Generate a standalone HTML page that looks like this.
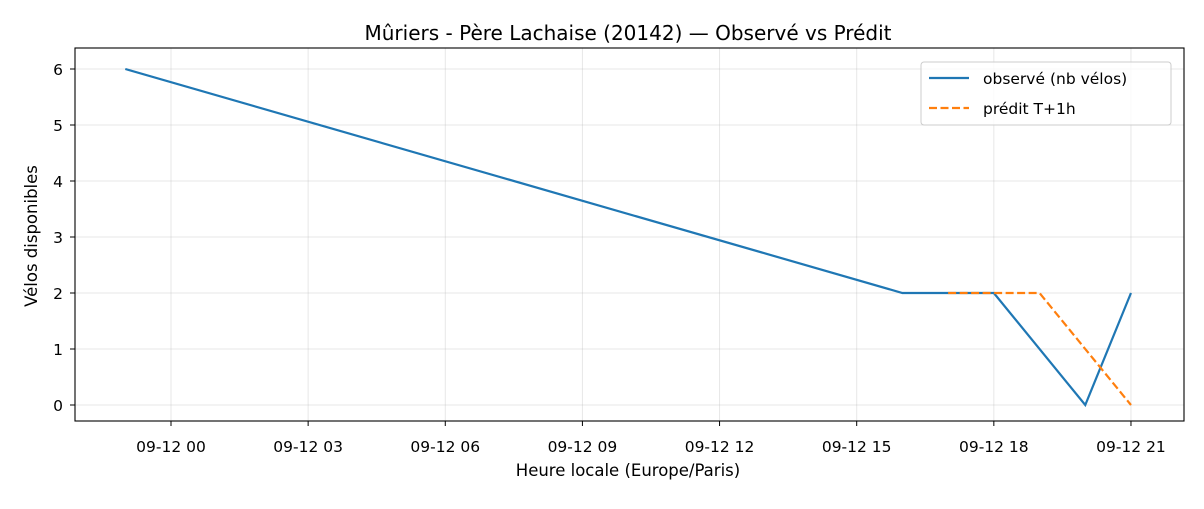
<!DOCTYPE html>
<html><head><meta charset="utf-8">
<style>
body{margin:0;background:#fff;font-family:"Liberation Sans","DejaVu Sans",sans-serif;}
svg text{font-family:"DejaVu Sans","Liberation Sans",sans-serif;fill:#000;}
</style></head>
<body>
<svg id="chart" width="1204" height="504" viewBox="0 0 1204 504">
<text x="628" y="40" font-size="20" text-anchor="middle">Mûriers - Père Lachaise (20142) — Observé vs Prédit</text>
<g id="grid"></g>
<g id="axes"></g>
<g id="series"></g>
<rect x="75" y="48" width="1109" height="373" fill="none" stroke="#000" stroke-width="1.1"/>
<text x="628" y="476" font-size="16.5" text-anchor="middle">Heure locale (Europe/Paris)</text>
<text transform="translate(37,236) rotate(-90)" font-size="16.5" text-anchor="middle">Vélos disponibles</text>
<g>
<rect x="921" y="62" width="250" height="63" rx="3" fill="#fff" fill-opacity="0.8" stroke="#ccc"/>
<line x1="929" y1="78" x2="969" y2="78" stroke="#1f77b4" stroke-width="2.2"/>
<text x="983" y="84" font-size="15.5">observé (nb vélos)</text>
<line x1="929" y1="108" x2="969" y2="108" stroke="#ff7f0e" stroke-width="2.2" stroke-dasharray="8,3.5"/>
<text x="983" y="114" font-size="15.5">prédit T+1h</text>
</g>
</svg>
<script>
const xTicks = [0,3,6,9,12,15,18,21];
const xTickLabels = ["09-12 00","09-12 03","09-12 06","09-12 09","09-12 12","09-12 15","09-12 18","09-12 21"];
const yTicks = [0,1,2,3,4,5,6];
const obsHours = [-1,16,18,20,21];
const obsValues = [6,2,2,0,2];
const predHours = [17,18,19,21];
const predValues = [2,2,2,0];

const NS="http://www.w3.org/2000/svg";
const X0=75,X1=1184,Y0=421,Y1=48;
const xmin=-2.1,xmax=22.16,ymin=-0.2857,ymax=6.375;
function sx(h){return X0+(h-xmin)/(xmax-xmin)*(X1-X0);}
function sy(v){return Y0-(v-ymin)/(ymax-ymin)*(Y0-Y1);}
function mk(tag,attrs,parent){const e=document.createElementNS(NS,tag);for(const k in attrs)e.setAttribute(k,attrs[k]);parent.appendChild(e);return e;}
const grid=document.getElementById('grid'),axes=document.getElementById('axes'),series=document.getElementById('series');
xTicks.forEach((t,i)=>{
  const x=sx(t);
  const g=mk('line',{x1:x,x2:x,y1:Y1,y2:Y0,stroke:'#b0b0b0','stroke-opacity':0.3,'stroke-width':1},grid);
  
  
  const tk=mk('line',{x1:x,x2:x,y1:Y0,y2:Y0+5,stroke:'#000'},axes);
  
  
  const tx=mk('text',{x:x,y:Y0+31,'font-size':15.5,'text-anchor':'middle'},axes);
  tx.textContent=xTickLabels[i];
  
  
});
yTicks.forEach(t=>{
  const y=sy(t);
  const g=mk('line',{x1:X0,x2:X1,y1:y,y2:y,stroke:'#b0b0b0','stroke-opacity':0.3,'stroke-width':1},grid);
  
  
  const tk=mk('line',{x1:X0-5,x2:X0,y1:y,y2:y,stroke:'#000'},axes);
  
  
  const tx=mk('text',{x:X0-12,y:y+6,'font-size':15.5,'text-anchor':'end'},axes);
  tx.textContent=String(t);
  
  
});
const obs=mk('polyline',{points:obsHours.map((h,i)=>sx(h)+','+sy(obsValues[i])).join(' '),fill:'none',stroke:'#1f77b4','stroke-width':2.2},series);


const pred=mk('polyline',{points:predHours.map((h,i)=>sx(h)+','+sy(predValues[i])).join(' '),fill:'none',stroke:'#ff7f0e','stroke-width':2.2,'stroke-dasharray':'8,3.5'},series);


</script>
</body></html>
